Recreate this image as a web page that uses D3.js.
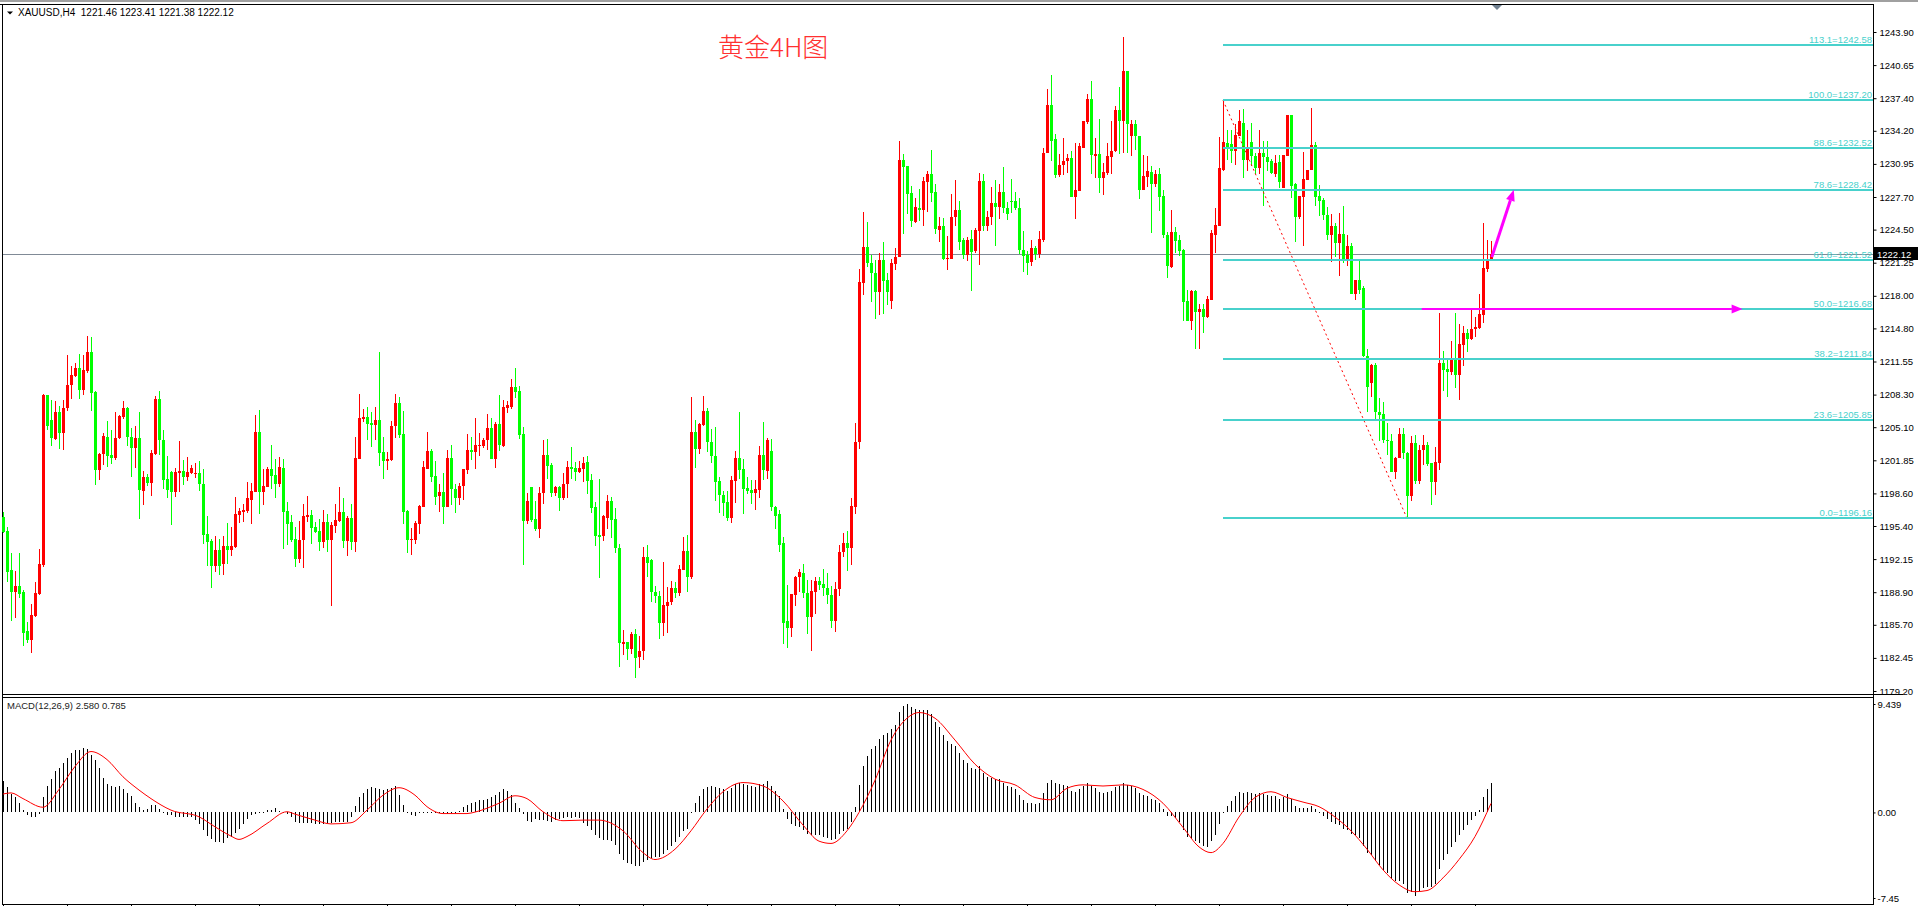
<!DOCTYPE html>
<html lang="zh">

<head>
    <meta charset="UTF-8">
    <title>XAUUSD H4</title>
    <script src="https://cdn.jsdelivr.net/npm/d3@7/dist/d3.min.js"></script>
    <style>
        html, body { margin: 0; padding: 0; background: #fff; overflow: hidden; }
        svg { display: block; font-family: "Liberation Sans", Arial, sans-serif; }
    </style>
</head>

<body>
    <script>
        var W = 1918, H = 906;

        // 4H candles, oldest first (red = up, green = down)
        var open = [
            1196.3,1194.9,1191.1,1188.9,1189.5,1188.9,1185.1,1184.2,1186.6,1188.7,
            1191.6,1208.3,1205.8,1203.9,1206.6,1204.5,1207.0,1209.2,1210.1,1210.9,
            1208.8,1210.6,1212.5,1208.6,1200.9,1202.5,1204.1,1202.4,1202.1,1204.0,
            1206.1,1207.0,1204.1,1203.1,1204.0,1198.8,1200.2,1199.6,1202.5,1207.9,
            1203.8,1200.0,1200.7,1198.7,1200.6,1200.8,1200.2,1200.6,1200.5,1200.6,
            1199.5,1194.6,1193.9,1191.5,1193.0,1191.7,1193.4,1193.0,1193.3,1196.5,
            1196.8,1196.9,1198.0,1198.7,1204.6,1198.7,1199.2,1201.0,1200.4,1199.5,
            1201.1,1196.9,1195.8,1194.1,1192.2,1194.0,1196.3,1196.5,1195.3,1194.9,
            1193.8,1195.8,1194.0,1195.4,1195.9,1196.8,1193.9,1196.2,1193.8,1202.0,
            1205.9,1206.1,1205.5,1205.3,1205.8,1202.7,1201.8,1201.9,1205.2,1207.5,
            1204.4,1196.9,1194.0,1194.0,1195.6,1197.3,1201.0,1202.8,1200.3,1198.3,
            1198.7,1197.3,1202.1,1199.0,1198.1,1199.3,1200.9,1202.9,1202.7,1203.3,
            1203.3,1203.8,1205.0,1202.0,1205.4,1203.3,1207.0,1207.1,1209.0,1208.7,
            1204.4,1195.9,1199.2,1196.1,1195.1,1198.6,1202.4,1201.4,1198.6,1199.2,
            1198.1,1199.5,1201.2,1201.1,1200.7,1201.0,1201.7,1199.9,1197.3,1194.5,
            1194.4,1196.2,1197.9,1196.1,1193.2,1183.8,1184.0,1183.3,1184.8,1182.5,
            1183.1,1192.4,1192.1,1188.9,1188.5,1185.9,1187.5,1187.9,1189.3,1188.8,
            1191.1,1192.9,1190.4,1204.6,1203.0,1205.3,1206.7,1203.6,1202.3,1199.8,
            1198.4,1197.8,1196.2,1199.8,1202.1,1201.0,1199.1,1198.9,1198.6,1198.9,
            1202.4,1200.8,1202.8,1197.3,1196.6,1193.7,1186.1,1185.4,1188.6,1190.4,
            1190.8,1188.8,1186.5,1188.9,1190.0,1189.7,1189.3,1188.6,1186.1,1189.2,
            1192.8,1193.7,1193.2,1197.3,1203.6,1219.3,1222.8,1221.2,1220.2,1218.4,
            1221.5,1219.6,1217.5,1221.1,1221.8,1231.3,1230.7,1228.1,1225.2,1226.6,
            1226.4,1229.2,1230.0,1228.2,1224.5,1224.9,1221.6,1221.6,1225.7,1226.4,
            1223.5,1222.0,1223.6,1222.4,1224.4,1229.3,1224.9,1225.7,1227.1,1226.7,
            1228.2,1226.6,1227.3,1227.3,1226.6,1222.5,1222.0,1221.3,1222.7,1222.1,
            1223.5,1232.0,1236.7,1233.4,1229.9,1230.8,1231.2,1231.5,1227.7,1228.3,
            1232.5,1235.1,1237.3,1231.7,1231.9,1229.6,1230.1,1231.6,1232.2,1236.2,
            1235.2,1240.1,1233.7,1234.9,1233.7,1228.4,1229.7,1230.2,1229.0,1230.0,
            1227.8,1224.0,1220.8,1224.3,1223.5,1222.5,1217.5,1215.5,1218.5,1216.4,
            1216.7,1215.9,1217.6,1224.0,1224.9,1230.4,1233.0,1232.9,1232.2,1233.7,
            1235.0,1231.3,1233.1,1231.7,1230.5,1232.0,1231.6,1231.2,1230.0,1231.1,
            1228.6,1231.7,1235.8,1229.0,1225.7,1227.7,1229.4,1230.4,1232.8,1227.8,
            1227.4,1225.9,1224.0,1224.9,1223.2,1224.1,1221.5,1222.9,1218.2,1219.6,
            1218.8,1212.1,1209.4,1211.2,1206.6,1206.4,1203.8,1203.7,1200.7,1202.1,
            1204.4,1202.6,1198.3,1203.5,1199.8,1202.9,1203.4,1201.6,1199.7,1201.6,
            1211.4,1210.8,1210.5,1211.8,1210.2,1213.2,1214.3,1213.8,1214.7,1214.8,
            1216.1,1220.6,1221.46
        ];
        var high = [
            1196.8,1195.3,1192.7,1191.0,1192.7,1189.1,1186.0,1187.7,1189.9,1193.1,
            1208.4,1208.3,1207.8,1207.7,1207.2,1207.8,1212.2,1211.1,1211.4,1212.3,
            1212.2,1214.1,1214.0,1208.7,1202.6,1204.5,1205.7,1204.8,1206.6,1206.3,
            1207.7,1207.1,1205.0,1205.2,1206.6,1200.8,1200.5,1202.9,1208.2,1208.7,
            1204.8,1202.3,1200.8,1201.1,1203.7,1201.9,1202.2,1201.4,1201.6,1201.8,
            1201.0,1196.4,1194.1,1194.4,1194.1,1194.4,1195.7,1195.3,1198.2,1197.2,
            1197.6,1199.7,1199.6,1206.3,1206.8,1201.0,1201.2,1203.4,1202.0,1202.2,
            1202.0,1197.8,1196.5,1195.3,1195.9,1197.6,1198.3,1197.0,1195.8,1196.1,
            1197.0,1196.6,1195.8,1197.6,1199.2,1198.1,1196.4,1197.6,1204.1,1208.4,
            1206.9,1207.1,1206.6,1207.1,1212.5,1204.1,1202.7,1205.7,1208.4,1208.1,
            1206.7,1197.0,1195.2,1195.9,1197.5,1201.8,1204.6,1203.0,1201.8,1199.5,
            1200.6,1202.9,1203.4,1199.5,1199.6,1201.0,1204.4,1204.1,1206.0,1204.5,
            1204.0,1206.4,1206.0,1205.6,1208.3,1207.8,1207.7,1209.8,1210.9,1209.1,
            1205.1,1198.6,1199.2,1197.9,1199.2,1203.8,1203.9,1201.6,1199.3,1199.3,
            1200.6,1201.8,1203.2,1201.7,1201.8,1202.2,1202.3,1200.5,1197.8,1200.0,
            1196.5,1198.4,1198.2,1197.2,1193.6,1185.2,1184.0,1185.0,1185.3,1184.6,
            1193.3,1193.5,1192.2,1189.5,1189.0,1191.9,1189.4,1190.0,1189.9,1191.6,
            1194.3,1194.5,1208.1,1205.8,1205.5,1208.2,1207.0,1204.9,1205.1,1200.2,
            1198.8,1198.8,1200.3,1202.8,1206.6,1202.0,1200.2,1199.9,1199.9,1203.3,
            1205.6,1204.0,1203.9,1197.4,1197.0,1194.3,1189.6,1188.7,1190.5,1191.2,
            1191.7,1190.1,1190.1,1190.4,1190.4,1191.2,1190.8,1189.5,1189.9,1193.5,
            1194.7,1194.9,1198.1,1205.5,1220.6,1226.2,1225.2,1222.0,1221.5,1222.2,
            1223.3,1220.2,1221.6,1222.7,1233.2,1231.9,1230.7,1228.8,1227.6,1228.5,
            1229.7,1230.3,1232.3,1229.0,1225.7,1225.6,1223.9,1228.0,1229.4,1227.3,
            1223.7,1223.8,1224.5,1224.7,1230.1,1230.0,1226.3,1228.7,1229.4,1229.0,
            1230.6,1227.2,1229.5,1228.2,1227.6,1224.4,1222.4,1223.5,1222.9,1224.4,
            1232.5,1238.3,1239.7,1233.9,1231.9,1233.5,1231.9,1232.2,1233.0,1233.0,
            1235.2,1237.8,1239.1,1233.5,1235.4,1231.0,1233.0,1235.2,1236.6,1238.5,
            1243.4,1240.1,1235.3,1235.3,1233.7,1231.8,1231.7,1230.7,1230.4,1230.5,
            1228.4,1224.3,1226.4,1224.8,1224.0,1222.6,1218.6,1218.6,1218.6,1217.2,
            1217.2,1218.0,1224.5,1226.6,1233.6,1237.2,1234.3,1234.3,1234.9,1236.2,
            1236.3,1234.3,1235.0,1232.0,1234.3,1233.2,1233.2,1231.4,1231.8,1231.8,
            1231.8,1235.8,1235.8,1229.1,1227.8,1232.1,1230.4,1236.4,1233.1,1228.9,
            1227.6,1226.7,1226.0,1225.1,1226.1,1226.8,1224.0,1223.2,1219.6,1221.5,
            1219.0,1212.8,1211.3,1211.4,1208.0,1207.6,1205.5,1204.4,1202.2,1205.0,
            1205.0,1202.7,1204.2,1204.3,1203.4,1204.3,1203.6,1201.6,1203.2,1216.3,
            1212.6,1211.9,1213.6,1216.3,1215.2,1215.0,1214.7,1216.7,1215.9,1218.2,
            1225.1,1223.5,1223.41
        ];
        var low = [
            1194.7,1189.9,1186.1,1186.4,1188.3,1183.6,1183.9,1182.9,1186.5,1188.6,
            1191.4,1204.8,1203.3,1203.8,1203.0,1202.9,1206.7,1207.9,1210.0,1207.9,
            1208.3,1210.4,1206.7,1199.4,1199.9,1201.4,1201.2,1201.5,1201.9,1203.9,
            1205.9,1203.3,1200.2,1201.1,1196.1,1197.5,1199.3,1198.3,1202.4,1202.4,
            1199.0,1198.1,1195.5,1198.2,1198.7,1199.4,1199.8,1200.5,1200.1,1198.8,
            1193.6,1191.5,1189.3,1190.9,1190.6,1190.6,1191.7,1192.5,1193.2,1195.7,
            1195.8,1196.7,1195.6,1198.7,1196.6,1197.5,1199.2,1199.0,1198.1,1199.2,
            1193.1,1193.5,1193.8,1191.4,1191.8,1191.3,1195.8,1193.6,1194.7,1192.9,
            1193.2,1192.8,1187.5,1194.7,1195.8,1193.2,1192.5,1193.0,1192.8,1202.0,
            1205.6,1203.8,1203.2,1203.8,1201.3,1200.0,1200.9,1201.8,1204.0,1204.0,
            1195.6,1192.7,1192.6,1193.6,1194.6,1197.3,1201.0,1199.7,1197.5,1196.8,
            1195.6,1197.3,1197.5,1196.7,1197.5,1198.0,1200.5,1201.9,1201.0,1202.3,
            1203.1,1202.9,1202.0,1201.1,1202.8,1203.2,1206.5,1206.9,1208.0,1203.9,
            1191.6,1195.6,1195.8,1194.9,1194.2,1197.6,1200.0,1198.2,1198.3,1196.9,
            1198.0,1198.1,1200.0,1199.8,1200.6,1199.7,1198.5,1196.7,1193.4,1190.3,
            1193.9,1195.1,1194.2,1192.7,1181.6,1182.7,1182.2,1182.8,1180.5,1181.5,
            1182.2,1190.4,1187.9,1187.8,1184.3,1184.6,1184.9,1187.6,1188.3,1188.5,
            1191.1,1188.9,1190.2,1201.1,1202.5,1205.2,1202.7,1201.6,1197.9,1196.7,
            1196.4,1195.9,1195.7,1197.7,1200.0,1196.6,1198.5,1197.6,1197.0,1198.1,
            1199.9,1200.0,1196.9,1195.1,1192.8,1183.8,1183.4,1184.5,1187.5,1188.9,
            1188.3,1184.8,1183.1,1186.8,1189.1,1188.5,1187.7,1185.4,1185.0,1188.5,
            1192.4,1191.0,1191.6,1196.6,1203.0,1218.1,1220.8,1217.4,1215.7,1216.1,
            1216.2,1217.1,1216.7,1220.5,1221.8,1224.1,1226.0,1224.8,1225.1,1225.3,
            1224.9,1226.2,1227.2,1224.1,1223.3,1221.5,1220.5,1221.6,1224.9,1222.5,
            1221.6,1221.4,1218.5,1222.2,1221.0,1224.4,1224.4,1225.0,1222.9,1225.5,
            1226.1,1225.4,1226.1,1226.4,1222.1,1220.3,1220.0,1220.9,1221.5,1221.7,
            1223.3,1232.0,1231.2,1229.6,1229.7,1229.9,1230.1,1227.7,1225.5,1228.3,
            1232.5,1234.9,1230.0,1229.6,1228.1,1227.9,1229.9,1230.0,1232.1,1231.9,
            1232.0,1232.0,1231.7,1232.3,1227.5,1228.4,1228.7,1224.2,1228.7,1226.3,
            1223.7,1219.7,1220.7,1222.2,1221.9,1215.5,1215.5,1214.6,1212.8,1212.8,
            1214.3,1215.8,1217.6,1222.2,1224.9,1230.3,1231.3,1231.0,1230.8,1233.7,
            1229.6,1230.3,1230.7,1230.0,1230.0,1226.8,1230.3,1230.0,1229.7,1228.6,
            1228.6,1231.7,1227.6,1223.3,1225.5,1222.9,1229.4,1230.4,1226.8,1225.8,
            1225.4,1223.5,1221.3,1221.8,1219.9,1221.2,1220.9,1218.2,1217.6,1218.2,
            1212.0,1206.6,1208.1,1205.7,1203.7,1203.5,1202.4,1200.7,1200.0,1202.1,
            1202.0,1196.16,1197.9,1199.5,1199.5,1201.4,1201.3,1197.5,1198.4,1200.9,
            1208.7,1208.1,1210.2,1208.9,1207.8,1211.1,1212.5,1213.7,1214.0,1214.7,
            1215.3,1220.3,1221.38
        ];
        var close = [
            1194.8,1190.9,1188.9,1189.5,1188.7,1184.9,1184.2,1186.7,1188.8,1191.7,
            1208.3,1205.2,1204.0,1206.6,1204.5,1207.0,1209.2,1210.2,1210.9,1208.8,
            1210.7,1212.5,1208.5,1200.9,1202.5,1204.2,1202.3,1202.1,1204.0,1206.2,
            1207.0,1204.1,1203.1,1204.0,1198.9,1200.2,1199.6,1202.6,1207.9,1203.8,
            1199.9,1198.9,1198.7,1200.7,1200.8,1200.2,1200.7,1201.1,1200.6,1199.5,
            1194.5,1193.8,1191.5,1193.0,1191.5,1193.4,1193.0,1193.4,1196.6,1196.9,
            1197.0,1198.1,1198.8,1204.6,1198.7,1199.3,1201.0,1200.3,1199.5,1201.2,
            1196.8,1195.6,1194.0,1192.2,1194.0,1196.4,1196.5,1195.2,1194.8,1193.8,
            1195.8,1194.0,1195.5,1196.0,1196.8,1193.9,1196.2,1193.8,1202.1,1206.0,
            1206.1,1205.4,1205.3,1205.8,1202.6,1201.8,1202.0,1205.2,1207.5,1204.3,
            1196.8,1194.0,1194.1,1195.7,1197.4,1201.2,1202.8,1200.2,1198.2,1198.7,
            1197.3,1202.1,1199.0,1198.1,1199.3,1201.0,1202.9,1202.7,1203.4,1203.4,
            1203.8,1205.0,1202.0,1205.4,1203.4,1207.1,1207.3,1209.0,1208.6,1204.3,
            1195.9,1197.9,1196.0,1195.1,1198.6,1202.4,1201.3,1198.6,1199.2,1198.1,
            1199.5,1201.2,1201.0,1200.7,1201.1,1201.6,1199.8,1197.2,1194.4,1194.3,
            1196.4,1197.9,1196.0,1193.2,1183.9,1184.0,1183.3,1184.8,1182.4,1183.1,
            1192.4,1191.8,1188.9,1188.5,1185.9,1187.6,1187.9,1189.3,1188.8,1191.2,
            1192.9,1190.4,1204.6,1203.0,1205.4,1206.7,1203.6,1202.3,1199.7,1198.4,
            1197.7,1196.2,1199.9,1202.1,1200.9,1199.0,1198.8,1198.6,1199.0,1202.4,
            1200.9,1203.8,1197.3,1196.4,1193.5,1185.9,1185.4,1188.7,1190.4,1190.9,
            1188.8,1186.5,1189.0,1190.0,1189.6,1189.3,1188.6,1186.1,1189.2,1192.8,
            1193.7,1193.2,1197.4,1203.6,1219.4,1222.8,1221.2,1220.2,1218.4,1221.5,
            1219.5,1218.4,1221.2,1221.8,1231.3,1230.6,1228.0,1225.3,1226.7,1226.4,
            1229.3,1230.0,1228.1,1224.6,1224.9,1221.6,1221.7,1225.7,1226.4,1223.3,
            1222.0,1223.5,1222.3,1224.5,1229.3,1224.9,1225.7,1227.1,1226.7,1228.2,
            1226.6,1226.0,1227.2,1226.6,1222.5,1221.9,1221.2,1222.7,1222.1,1223.6,
            1232.0,1236.7,1233.2,1229.9,1230.8,1231.2,1231.5,1227.7,1228.4,1232.7,
            1235.2,1237.3,1231.8,1231.9,1229.6,1230.2,1231.7,1232.2,1236.2,1235.2,
            1240.1,1234.9,1234.9,1233.7,1228.4,1229.8,1230.3,1229.0,1230.0,1227.7,
            1224.0,1220.9,1224.3,1223.4,1222.4,1217.4,1215.5,1218.5,1216.4,1216.7,
            1215.9,1217.7,1224.2,1225.0,1230.5,1233.1,1232.6,1232.2,1233.8,1235.2,
            1231.3,1232.5,1231.7,1230.5,1232.0,1231.6,1231.1,1230.1,1231.0,1229.2,
            1231.8,1235.8,1228.8,1225.7,1227.8,1229.5,1230.4,1232.8,1227.7,1227.3,
            1225.9,1224.0,1224.9,1223.2,1224.1,1221.5,1222.9,1218.2,1219.6,1218.6,
            1212.1,1209.0,1211.2,1206.6,1206.3,1203.8,1203.7,1200.7,1202.1,1204.4,
            1202.6,1198.3,1203.5,1199.8,1202.9,1203.4,1201.5,1199.7,1201.7,1211.4,
            1210.7,1210.5,1211.8,1210.2,1213.3,1214.3,1213.8,1214.7,1214.9,1216.2,
            1220.7,1221.4,1222.12
        ];

        // MACD(12,26,9) main line, drawn as histogram
        var macdMain = [
            2.7,2.2,1.6,1.3,0.8,0.2,-0.2,-0.4,-0.4,-0.1,
            1.3,2.3,2.9,3.6,3.9,4.3,4.7,5.2,5.4,5.45,
            5.6,5.5,5.0,4.55,3.85,3.0,2.5,2.3,2.2,2.3,
            2.0,1.65,1.4,0.8,0.5,0.2,0.26,0.67,0.67,0.32,
            0.0,-0.23,-0.26,-0.38,-0.38,-0.38,-0.44,-0.44,-0.67,-1.0,
            -1.54,-2.06,-2.3,-2.55,-2.55,-2.64,-2.26,-2.1,-1.77,-1.4,
            -1.0,-0.6,-0.23,-0.15,-0.09,-0.09,0.2,0.2,0.38,0.1,
            -0.03,-0.15,-0.38,-0.8,-0.96,-0.96,-0.96,-0.96,-1.0,-1.0,
            -1.0,-0.9,-0.9,-0.8,-0.8,-0.8,-0.8,-0.4,0.55,1.3,
            1.7,2.0,2.2,2.15,2.0,1.95,2.0,2.1,2.3,1.5,
            0.64,0.0,-0.2,-0.3,-0.09,0.0,0.03,-0.09,0.0,0.0,
            0.0,-0.1,0.0,0.0,0.15,0.5,0.64,0.8,0.93,1.1,
            1.1,1.2,1.35,1.55,1.8,2.0,1.9,1.5,0.8,0.35,
            -0.1,-0.72,-0.8,-0.6,-0.67,-0.67,-0.72,-0.8,-0.67,-0.6,
            -0.5,-0.44,-0.5,-0.44,-0.5,-0.9,-1.2,-1.5,-2.0,-2.2,
            -2.4,-2.4,-2.5,-2.8,-3.6,-4.1,-4.4,-4.5,-4.7,-4.7,
            -4.3,-4.1,-4.0,-3.9,-3.9,-3.6,-3.3,-2.9,-2.6,-2.1,
            -1.6,-1.4,0.0,0.8,1.4,2.0,2.2,2.3,2.2,2.1,
            2.0,1.9,2.1,2.5,2.6,2.5,2.4,2.3,2.2,2.5,
            2.5,2.7,2.3,1.9,1.4,0.3,-0.6,-1.0,-1.2,-1.3,
            -1.5,-1.9,-2.0,-2.0,-2.0,-2.1,-2.2,-2.4,-2.3,-1.9,
            -1.6,-1.4,-0.8,0.5,2.4,4.0,4.9,5.5,5.8,6.4,
            6.7,6.9,7.3,7.6,8.7,9.3,9.44,9.2,9.0,8.9,
            8.9,8.9,8.6,7.9,7.4,6.7,6.2,6.0,5.8,5.2,
            4.6,4.3,3.9,3.8,4.0,3.4,3.1,3.0,2.9,2.9,
            2.6,2.3,2.2,2.0,1.5,1.1,0.8,0.8,0.7,0.8,
            1.7,2.6,2.8,2.6,2.5,2.4,2.3,1.9,1.8,2.0,
            2.3,2.6,2.3,2.1,1.8,1.7,1.8,1.9,2.2,2.3,
            2.6,2.4,2.3,2.1,1.7,1.5,1.4,1.2,1.1,0.8,
            0.3,-0.3,-0.3,-0.5,-0.8,-1.5,-2.1,-2.3,-2.5,-2.7,
            -2.9,-3.0,-2.5,-2.0,-1.0,0.0,0.6,1.0,1.4,1.8,
            1.7,1.8,1.7,1.6,1.7,1.6,1.5,1.4,1.4,1.2,
            1.3,1.6,1.2,0.6,0.4,0.4,0.4,0.6,0.3,0.0,
            -0.3,-0.6,-0.8,-1.0,-1.1,-1.4,-1.5,-1.9,-2.0,-2.2,
            -2.9,-3.5,-3.7,-4.2,-4.6,-5.0,-5.3,-5.8,-6.0,-6.0,
            -6.2,-7.0,-6.9,-7.3,-6.8,-6.6,-6.5,-6.5,-6.2,-4.9,
            -4.1,-3.6,-3.0,-2.6,-2.0,-1.5,-1.1,-0.7,-0.3,0.2,
            1.3,2.0,2.58
        ];

        // signal line, read at points along the curve
        var sigIdx = [0, 2, 5, 10, 14, 18, 22, 26, 30, 34, 37, 42, 49, 53, 57, 59, 61, 66, 71, 73, 78, 82, 87, 91, 95,
            99, 103, 106, 110, 116, 118, 124, 128, 131, 135, 140, 145, 149, 155, 160, 163, 168, 172, 176, 180, 185,
            190, 195, 200, 204, 207, 211, 214, 218, 222, 226, 229, 233, 238, 243, 248, 253, 258, 262, 266, 270, 275,
            280, 285, 290, 295, 299, 302, 305, 309, 313, 317, 321, 325, 329, 333, 337, 341, 345, 349, 353, 356, 360,
            364, 368, 372];
        var sigVal = [1.6, 1.7, 1.2, 0.45, 2.0, 4.0, 5.3, 4.6, 3.1, 1.95, 1.2, 0.2, -0.38, -1.25, -2.06, -2.35, -2.1,
            -0.96, 0.06, -0.15, -0.67, -1.0, -0.9, 0.2, 1.5, 2.15, 1.5, 0.5, -0.1, -0.1, 0.03, 0.8, 1.45, 1.2, 0.06,
            -0.72, -0.67, -0.67, -1.6, -3.5, -4.1, -3.2, -1.6, 0.3, 1.8, 2.6, 2.3, 1.0, -1.1, -2.5, -2.7, -1.6, 0.0,
            2.8, 6.3, 8.2, 8.7, 8.2, 6.3, 4.2, 2.9, 2.4, 1.3, 1.1, 2.1, 2.4, 2.3, 2.4, 2.0, 0.8, -1.3, -3.0, -3.5,
            -2.7, -0.4, 1.3, 1.8, 1.3, 0.9, 0.5, -0.4, -1.6, -3.2, -5.0, -6.3, -6.9, -6.8, -5.7, -4.1, -2.1, 0.785];

        var priceTicks = [1243.90, 1240.65, 1237.40, 1234.20, 1230.95, 1227.70, 1224.50, 1221.25, 1218.00, 1214.80,
            1211.55, 1208.30, 1205.10, 1201.85, 1198.60, 1195.40, 1192.15, 1188.90, 1185.70, 1182.45, 1179.20];
        var macdTicks = [9.439, 0, -7.45];
        var macdTickText = ["9.439", "0.00", "-7.45"];

        var fibLevels = ["113.1", "100.0", "88.6", "78.6", "61.8", "50.0", "38.2", "23.6", "0.0"];
        var fibPrices = [1242.58, 1237.20, 1232.52, 1228.42, 1221.52, 1216.68, 1211.84, 1205.85, 1196.16];
        var fibFrom = [305, 1237.20], fibTo = [351, 1196.16];

        var lastPrice = 1222.12;
        var headerText = "XAUUSD,H4  1221.46 1223.41 1221.38 1222.12";
        var macdText = "MACD(12,26,9) 2.580 0.785";
        var titleText = "黄金4H图";

        // hand-drawn arrows: [bar index, price]
        var arrowFrom = [[372.2, 1221.8], [354.7, 1216.7]];
        var arrowTo = [[377.7, 1228.4], [434.9, 1216.7]];

        var axisX = 1873;

        var svg = d3.select("body")
            .append("svg")
            .attr("width", W)
            .attr("height", H);

        var x = d3.scaleLinear().domain([0, 372]).range([3, 1491]);
        var y = d3.scaleLinear().domain([1179.20, 1243.90]).range([691, 32]);
        var ym = d3.scaleLinear().domain([-7.45, 9.439]).range([898, 704]);

        // frame
        svg.append("rect").attr("x", 0).attr("y", 0).attr("width", W).attr("height", 2).attr("fill", "#a0a0a0");
        var frame = svg.append("g").attr("stroke", "#000").attr("stroke-width", 1).attr("shape-rendering", "crispEdges");
        frame.append("line").attr("x1", 0).attr("x2", axisX).attr("y1", 4.5).attr("y2", 4.5);
        frame.append("line").attr("x1", 2.5).attr("x2", 2.5).attr("y1", 4).attr("y2", 904);
        frame.append("line").attr("x1", axisX + 0.5).attr("x2", axisX + 0.5).attr("y1", 4).attr("y2", 905);
        frame.append("line").attr("x1", 2).attr("x2", axisX + 30).attr("y1", 694.5).attr("y2", 694.5);
        frame.append("line").attr("x1", 2).attr("x2", axisX).attr("y1", 697.5).attr("y2", 697.5);
        frame.append("line").attr("x1", 2).attr("x2", axisX).attr("y1", 904.5).attr("y2", 904.5);

        // current price line
        svg.append("line")
            .attr("x1", 3).attr("x2", axisX)
            .attr("y1", Math.round(y(lastPrice)) + 0.5).attr("y2", Math.round(y(lastPrice)) + 0.5)
            .attr("stroke", "#808a96").attr("stroke-width", 1);

        // candles
        var idx = d3.range(open.length);
        var gC = svg.append("g").attr("shape-rendering", "crispEdges");
        var col = function(i) { return close[i] >= open[i] ? "#ff0000" : "#00ff00"; };

        gC.selectAll(".wick").data(idx).enter().append("rect")
            .attr("x", function(i) { return Math.round(x(i)); })
            .attr("y", function(i) { return Math.round(y(high[i])); })
            .attr("width", 1)
            .attr("height", function(i) { return Math.max(1, Math.round(y(low[i])) - Math.round(y(high[i]))); })
            .attr("fill", col);

        gC.selectAll(".body").data(idx).enter().append("rect")
            .attr("x", function(i) { return Math.round(x(i)) - 1; })
            .attr("y", function(i) { return Math.round(y(Math.max(open[i], close[i]))); })
            .attr("width", 3)
            .attr("height", function(i) {
                return Math.max(1, Math.round(y(Math.min(open[i], close[i]))) - Math.round(y(Math.max(open[i], close[i]))));
            })
            .attr("fill", col);

        // fibonacci
        var fibCol = "#48d1cc";
        svg.append("line")
            .attr("x1", x(fibFrom[0])).attr("y1", y(fibFrom[1]))
            .attr("x2", x(fibTo[0])).attr("y2", y(fibTo[1]))
            .attr("stroke", "#ff0000").attr("stroke-width", 1)
            .attr("stroke-dasharray", "2,3");

        svg.selectAll(".fib").data(fibPrices).enter().append("rect")
            .attr("x", Math.round(x(fibFrom[0])))
            .attr("y", function(d) { return Math.round(y(d)) - 1; })
            .attr("width", axisX - Math.round(x(fibFrom[0])))
            .attr("height", 2)
            .attr("fill", fibCol);

        svg.selectAll(".fibtxt").data(fibPrices).enter().append("text")
            .attr("x", axisX - 1)
            .attr("y", function(d) { return Math.round(y(d)) - 2; })
            .attr("text-anchor", "end")
            .attr("font-size", "9.5px")
            .attr("fill", fibCol)
            .text(function(d, i) { return fibLevels[i] + "=" + d.toFixed(2); });

        // magenta arrows
        var mag = "#ff00ff";
        arrowFrom.forEach(function(a, k) {
            var x1 = x(a[0]), y1 = y(a[1]), x2 = x(arrowTo[k][0]), y2 = y(arrowTo[k][1]);
            var ang = Math.atan2(y2 - y1, x2 - x1);
            var len = 11, wid = 4.5;
            var bx = x2 - len * Math.cos(ang), by = y2 - len * Math.sin(ang);
            svg.append("line")
                .attr("x1", x1).attr("y1", y1).attr("x2", bx).attr("y2", by)
                .attr("stroke", mag).attr("stroke-width", k === 0 ? 3 : 2);
            svg.append("path")
                .attr("d", "M" + x2 + "," + y2 +
                    "L" + (bx + wid * Math.sin(ang)) + "," + (by - wid * Math.cos(ang)) +
                    "L" + (bx - wid * Math.sin(ang)) + "," + (by + wid * Math.cos(ang)) + "Z")
                .attr("fill", mag);
        });

        // price axis
        var yAxis = d3.axisRight(y)
            .tickValues(priceTicks)
            .tickSize(3)
            .tickPadding(3)
            .tickFormat(function(d) { return d.toFixed(2); });
        var gy = svg.append("g")
            .attr("transform", "translate(" + (axisX + 0.5) + ",0)")
            .call(yAxis);
        gy.select(".domain").remove();
        gy.selectAll("text").attr("font-size", "9.5px").attr("font-family", "Liberation Sans, Arial, sans-serif").attr("fill", "#000");
        gy.selectAll("line").attr("stroke", "#000");

        // current price label
        var yl = Math.round(y(lastPrice));
        svg.append("rect").attr("x", axisX + 1).attr("y", yl - 7).attr("width", W - axisX - 1).attr("height", 13).attr("fill", "#000");
        svg.append("text").attr("x", axisX + 4).attr("y", yl + 4)
            .attr("font-size", "9.5px").attr("fill", "#fff").text(lastPrice.toFixed(2));

        // header + title
        svg.append("path").attr("d", "M7,11.5L13,11.5L10,14.5Z").attr("fill", "#000");
        svg.append("text").attr("x", 18).attr("y", 16).attr("font-size", "10px").attr("fill", "#000")
            .attr("xml:space", "preserve").style("white-space", "pre").text(headerText);
        svg.append("text").attr("x", 718).attr("y", 57)
            .attr("font-family", "Noto Sans CJK SC, sans-serif").attr("font-size", "26px")
            .attr("font-weight", 300)
            .attr("fill", "#ff3030").text(titleText);

        // shift marker
        svg.append("path").attr("d", "M1492,5L1502,5L1497,10Z").attr("fill", "#708090");

        // MACD histogram
        var gM = svg.append("g").attr("shape-rendering", "crispEdges");
        gM.selectAll("rect").data(macdMain).enter().append("rect")
            .attr("x", function(d, i) { return Math.round(x(i)); })
            .attr("y", function(d) { return Math.round(ym(Math.max(0, d))); })
            .attr("width", 1)
            .attr("height", function(d) { return Math.max(1, Math.abs(Math.round(ym(d)) - Math.round(ym(0)))); })
            .attr("fill", "#000");

        var sig = sigIdx.map(function(v, i) { return [v, sigVal[i]]; });
        svg.append("path")
            .datum(sig)
            .attr("d", d3.line().x(function(d) { return x(d[0]); }).y(function(d) { return ym(d[1]); }).curve(d3.curveMonotoneX))
            .attr("fill", "none")
            .attr("stroke", "#ff0000")
            .attr("stroke-width", 1);

        svg.append("text").attr("x", 7).attr("y", 709).attr("font-size", "9.5px").attr("fill", "#222")
            .text(macdText);

        var mAxis = d3.axisRight(ym).tickValues(macdTicks).tickSize(2).tickPadding(2)
            .tickFormat(function(d, i) { return macdTickText[i]; });
        var gm = svg.append("g").attr("transform", "translate(" + (axisX + 0.5) + ",0)").call(mAxis);
        gm.select(".domain").remove();
        gm.selectAll("text").attr("font-size", "9.5px").attr("font-family", "Liberation Sans, Arial, sans-serif").attr("fill", "#000");
        gm.selectAll("line").attr("stroke", "#000");

        // time ticks (labels fall below the window)
        var tAxis = d3.axisBottom(x).tickValues(d3.range(0, 373, 16)).tickSize(2).tickFormat("");
        var gt = svg.append("g").attr("transform", "translate(0,904.5)").call(tAxis);
        gt.select(".domain").remove();
        gt.selectAll("line").attr("stroke", "#000");
    </script>
</body>

</html>
